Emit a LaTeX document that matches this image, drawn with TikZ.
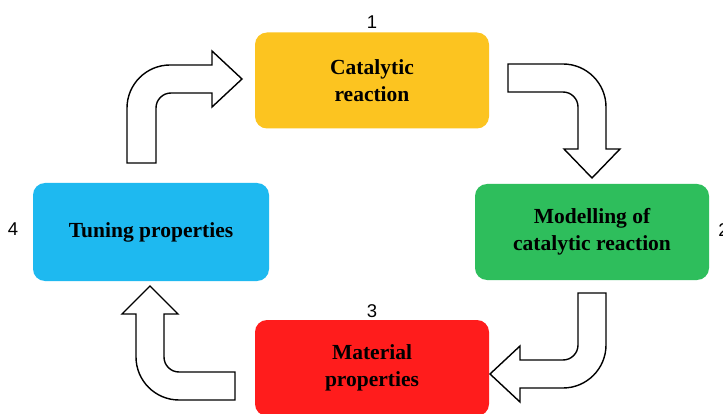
\documentclass[tikz,border=0pt]{standalone}
\usepackage{fontspec}
\setmainfont{Liberation Serif}
\newfontfamily\numfont{Liberation Sans}
\definecolor{cyellow}{RGB}{252,196,32}
\definecolor{cblue}{RGB}{30,185,240}
\definecolor{cgreen}{RGB}{46,190,92}
\definecolor{cred}{RGB}{255,28,28}
\begin{document}
\begin{tikzpicture}[x=1pt,y=-1pt,
  box/.style={rectangle, rounded corners=12pt, minimum width=234pt, minimum height=96pt, inner sep=0pt, align=center, font=\fontsize{21.5}{26.5}\selectfont\bfseries},
  num/.style={font=\numfont\fontsize{18.5}{20}\selectfont, inner sep=0pt},
  barrow/.style={draw=black, line width=1.4pt, fill=white, line join=miter}]
\clip (0,0) rectangle (723,414);
\fill[white] (0,0) rectangle (723,414);
% boxes
\node[box, fill=cyellow] (b1) at (372,80.5) {Catalytic\\reaction};
\node[box, fill=cgreen] (b2) at (592,232) {Modelling of\\catalytic reaction};
\node[box, fill=cred] (b3) at (372,368) {Material\\properties};
\node[box, fill=cblue, minimum width=236pt, minimum height=98pt] (b4) at (151,232) {Tuning properties};
% numbers
\node[num] (n1) at (372,22) {1};
\node[num] (n2) at (723.5,230) {2};
\node[num] (n3) at (372,311) {3};
\node[num] (n4) at (13,229) {4};
% bent arrow 1: blue -> yellow
\draw[barrow] (127,163) -- (127,108) .. controls (127,84.3) and (146.3,65) .. (170,65)
  -- (212,65) -- (212,51) -- (242,79) -- (212,107) -- (212,93) -- (171,93)
  .. controls (162.7,93) and (156,99.7) .. (156,108) -- (156,163) -- cycle;
% bent arrow 2: yellow -> green
\draw[barrow] (508,64) -- (563,64) .. controls (586.7,64) and (606,83.3) .. (606,107)
  -- (606,149) -- (620,149) -- (592,178) -- (564,149) -- (578,149) -- (578,107)
  .. controls (578,98.7) and (571.3,92) .. (563,92) -- (508,92) -- cycle;
% bent arrow 3: green -> red
\draw[barrow] (578,293) -- (606,293) -- (606,345) .. controls (606,368.7) and (586.7,388) .. (563,388)
  -- (520,388) -- (520,402) -- (490,374) -- (520,346) -- (520,360) -- (563,360)
  .. controls (571.3,360) and (578,353.3) .. (578,345) -- cycle;
% bent arrow 4: red -> blue
\draw[barrow] (235,400) -- (179,400) .. controls (155.3,400) and (136,380.7) .. (136,357)
  -- (136,314) -- (122,314) -- (150,286) -- (178,314) -- (164,314) -- (164,357)
  .. controls (164,365.3) and (170.7,372) .. (179,372) -- (235,372) -- cycle;
\end{tikzpicture}
\end{document}
